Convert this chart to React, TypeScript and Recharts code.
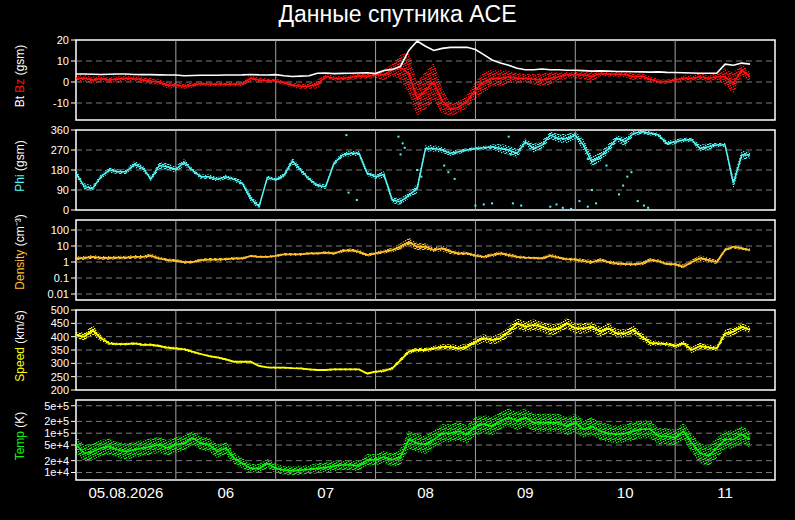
import React from 'react';
import { ComposedChart, Line, Area, Scatter, XAxis, YAxis, ReferenceLine, ReferenceArea } from 'recharts';

const TITLE = 'Данные спутника ACE';
const STEP_HOURS = 2;
const DAY_LINES = [24, 48, 72, 96, 120, 144];
const DAY_LABEL_POS = [12, 36, 60, 84, 108, 132, 156];
const DAY_LABELS = ['05.08.2026', '06', '07', '08', '09', '10', '11'];

// Magnetic field (nT), every 2 hours from 05.08 00:00
const BT = [
  3.8, 3.8, 3.7, 3.6, 3.7, 3.8, 3.8, 3.6, 3.5, 3.5,
  3.4, 3.3, 3.3, 3.0, 3.1, 3.2, 3.2, 3.2, 3.3, 3.3,
  3.4, 3.6, 3.4, 3.3, 3.5, 3.0, 2.6, 2.8, 3.0, 4.2,
  4.3, 4.0, 4.1, 4.2, 4.3, 4.4, 4.0, 5.5, 6.0, 7.5,
  15, 19.5, 17, 15, 16, 16.5, 16.5, 16.5, 15.5, 13,
  10.5, 9, 8, 6.5, 5.8, 5.8, 6.2, 5.8, 5.8, 5.6,
  5.6, 5.4, 5.2, 5.3, 5.2, 5.0, 5.0, 4.9, 4.8, 4.7,
  4.8, 4.6, 4.5, 4.4, 4.3, 4.2, 4.2, 4.2, 8.5, 8.0,
  9.0, 8.5,
];
const BZ = [
  1.8, 1.8, 0.9, 1.6, 0.9, 1.4, 1.8, 1.6, 0.9, 0.4,
  0, -1.6, -1.6, -2, -1.6, -0.8, -1.1, -1.1, -1.1, -1.1,
  -0.8, 1.8, 0.9, 0.6, 0.6, -0.3, -1.6, -2, -2, -1.1,
  2.7, 1.8, 1.8, 2.2, 2.9, 2.7, 3.4, 3.3, 5.7, 7,
  4, -8, -4, 0, -9, -13, -12, -9, -4, 0,
  1.8, 1.8, 2.5, 1.8, 1.8, 1.3, 0.9, 1.8, 2.5, 3.3,
  3.3, 3.3, 2.5, 4.1, 3.7, 3.7, 3.6, 2.5, 2.8, 1.3,
  0.2, 0.2, 0.9, 1.8, 1.8, 2.5, 1.8, 2.5, 2.5, -0.6,
  5.7, 2.5,
];
const BZ_SPREAD = [
  1.5, 1.8, 1.8, 1.5, 1.5, 1.5, 1.5, 1.5, 1.5, 1.5,
  1.2, 1.5, 1.2, 1.2, 1.2, 1.0, 1.0, 1.0, 1.0, 1.0,
  1.2, 1.5, 1.2, 1.0, 1.0, 1.0, 1.2, 1.2, 1.2, 2.0,
  1.2, 1.2, 1.2, 1.2, 1.2, 1.2, 1.5, 2.5, 3, 6,
  10, 8, 9, 9, 6, 3, 3, 3, 4, 5,
  4, 4, 3, 2.5, 2, 2.5, 3, 3, 2, 1.5,
  1.5, 2, 2.5, 1.2, 1.2, 1.2, 1.5, 1.5, 1.2, 1.5,
  1, 1, 1, 1.2, 1.5, 1.5, 1.5, 1.5, 4, 5,
  3, 2,
];

// Phi (deg)
const PHI = [
  165, 105, 97, 150, 180, 172, 172, 205, 190, 140,
  200, 195, 182, 215, 178, 150, 150, 138, 150, 138,
  120, 52, 15, 147, 135, 157, 220, 180, 140, 110,
  105, 210, 247, 255, 255, 165, 150, 160, 45, 37,
  67, 97, 277, 277, 270, 255, 262, 270, 277, 280,
  285, 277, 270, 255, 307, 277, 292, 337, 322, 322,
  337, 292, 217, 240, 277, 322, 307, 345, 352, 345,
  337, 300, 307, 315, 315, 277, 285, 292, 292, 120,
  247, 247,
];
const PHI_SPREAD = [
  15, 15, 12, 12, 12, 10, 10, 15, 12, 12,
  15, 15, 15, 15, 10, 10, 10, 10, 10, 10,
  12, 15, 12, 10, 8, 12, 15, 12, 10, 10,
  10, 10, 12, 12, 12, 12, 10, 15, 15, 15,
  15, 20, 15, 15, 12, 12, 10, 8, 8, 8,
  10, 20, 20, 20, 15, 20, 20, 15, 20, 20,
  15, 25, 25, 20, 20, 15, 20, 12, 10, 10,
  10, 12, 10, 10, 10, 15, 15, 10, 10, 25,
  20, 15,
];
const PHI_EXTRA_T = [65, 65.5, 67.5, 77.5, 78, 78.5, 79, 82, 83, 88.5, 89.5, 91, 96, 98, 100, 104, 104.5, 105, 107, 114, 115.5, 117, 119, 121, 123, 123, 124, 125, 127.5, 130.5, 131.5, 132.5, 133.5, 135, 136.5, 137.5];
const PHI_EXTRA_V = [337, 78, 45, 330, 250, 300, 280, 180, 150, 200, 170, 140, 20, 25, 30, 330, 250, 30, 20, 15, 25, 10, 5, 40, 15, 230, 90, 30, 200, 70, 110, 150, 170, 40, 20, 10];

// Density (cm^-3)
const DENS = [
  1.7, 1.8, 2.1, 1.8, 1.8, 1.9, 1.9, 2.1, 2.1, 2.5,
  1.7, 1.33, 1.2, 0.98, 1.0, 1.3, 1.4, 1.4, 1.5, 1.7,
  1.7, 2.4, 2.1, 2.1, 2.4, 3.0, 3.0, 3.0, 3.5, 3.5,
  3.9, 3.5, 4.9, 5.4, 4.5, 2.7, 3.5, 4.5, 5.6, 9,
  18, 9, 9, 5.6, 7.1, 4.5, 3.5, 3.5, 2.5, 2.1,
  2.7, 3.5, 2.7, 2.1, 1.9, 1.8, 1.7, 2.5, 1.9, 1.5,
  1.4, 1.15, 1.0, 1.3, 1.0, 0.82, 0.75, 0.72, 0.82, 1.3,
  1.15, 0.75, 0.72, 0.51, 1.0, 1.7, 1.3, 1.0, 5.6, 9,
  7.1, 5.6,
];
const DENS_SPREAD = [
  1.3, 1.3, 1.3, 1.3, 1.3, 1.3, 1.3, 1.3, 1.3, 1.3,
  1.25, 1.25, 1.25, 1.25, 1.25, 1.25, 1.25, 1.25, 1.25, 1.25,
  1.2, 1.2, 1.2, 1.2, 1.2, 1.2, 1.2, 1.2, 1.2, 1.2,
  1.25, 1.25, 1.3, 1.3, 1.3, 1.25, 1.25, 1.3, 1.4, 1.6,
  1.8, 1.7, 1.6, 1.4, 1.5, 1.4, 1.3, 1.3, 1.25, 1.25,
  1.3, 1.35, 1.3, 1.25, 1.2, 1.2, 1.2, 1.3, 1.25, 1.25,
  1.3, 1.35, 1.35, 1.3, 1.3, 1.3, 1.3, 1.3, 1.3, 1.3,
  1.25, 1.25, 1.3, 1.35, 1.4, 1.5, 1.4, 1.35, 1.3, 1.3,
  1.25, 1.25,
];

// Speed (km/s)
const SPEED = [
  406, 400, 425, 394, 375, 372, 372, 375, 369, 369,
  365, 359, 356, 352, 344, 335, 327, 322, 315, 306,
  306, 306, 290, 285, 284, 284, 282, 281, 277, 275,
  275, 277, 277, 277, 277, 262, 269, 272, 281, 312,
  344, 350, 350, 356, 362, 362, 356, 362, 381, 394,
  387, 394, 419, 450, 437, 444, 437, 425, 431, 450,
  431, 431, 437, 419, 431, 412, 412, 425, 400, 377,
  375, 372, 365, 375, 350, 365, 360, 356, 412, 419,
  437, 425,
];
const SPEED_SPREAD = [
  12, 15, 18, 12, 6, 5, 5, 5, 5, 5,
  5, 5, 5, 5, 5, 4, 4, 4, 4, 4,
  4, 4, 3, 3, 3, 3, 3, 3, 4, 4,
  4, 4, 4, 4, 4, 4, 5, 6, 6, 8,
  8, 8, 8, 10, 10, 10, 12, 12, 14, 15,
  15, 18, 18, 20, 20, 20, 20, 20, 20, 20,
  20, 20, 18, 18, 18, 16, 16, 16, 14, 12,
  8, 8, 8, 10, 12, 12, 10, 10, 15, 15,
  15, 12,
];

// Temperature (K)
const TEMP = [
  5.1e4, 3.1e4, 3.4e4, 4.2e4, 4.6e4, 3.8e4, 3.4e4, 3.8e4, 4.2e4, 4.6e4,
  5.1e4, 4.2e4, 5.1e4, 5.6e4, 7.6e4, 5.6e4, 5.1e4, 3.4e4, 4.2e4, 2.3e4,
  1.7e4, 1.27e4, 1.27e4, 1.7e4, 1.27e4, 1.15e4, 1.1e4, 1.15e4, 1.2e4, 1.27e4,
  1.35e4, 1.45e4, 1.55e4, 1.55e4, 1.45e4, 2.1e4, 2.1e4, 2.5e4, 2.1e4, 2.5e4,
  6.9e4, 5.6e4, 5.1e4, 6.9e4, 1.0e5, 1.0e5, 1.13e5, 9.3e4, 1.5e5, 1.7e5,
  1.5e5, 2.05e5, 2.5e5, 2.05e5, 2.5e5, 1.85e5, 1.85e5, 1.85e5, 1.85e5, 1.5e5,
  1.85e5, 1.26e5, 1.5e5, 1.13e5, 1.0e5, 9.3e4, 1.0e5, 1.13e5, 1.26e5, 1.26e5,
  8.4e4, 8.4e4, 7.6e4, 1.13e5, 5.6e4, 3.1e4, 2.6e4, 4.2e4, 6.9e4, 6.9e4,
  9.3e4, 6.9e4,
];
const TEMP_SPREAD = [
  1.6, 1.6, 1.6, 1.6, 1.6, 1.6, 1.6, 1.6, 1.6, 1.6,
  1.6, 1.6, 1.6, 1.55, 1.5, 1.5, 1.5, 1.5, 1.45, 1.4,
  1.35, 1.3, 1.3, 1.3, 1.3, 1.3, 1.3, 1.3, 1.3, 1.35,
  1.35, 1.35, 1.35, 1.35, 1.35, 1.4, 1.4, 1.4, 1.5, 1.6,
  1.7, 1.7, 1.7, 1.7, 1.7, 1.7, 1.7, 1.7, 1.7, 1.7,
  1.7, 1.7, 1.7, 1.7, 1.7, 1.7, 1.7, 1.7, 1.7, 1.7,
  1.7, 1.7, 1.7, 1.7, 1.7, 1.7, 1.7, 1.7, 1.7, 1.7,
  1.6, 1.6, 1.6, 1.6, 1.7, 1.8, 1.8, 1.8, 1.7, 1.7,
  1.7, 1.6,
];

// Axis ticks
const BZ_TICKS = [-10, 0, 10, 20];
const BZ_GRID = [-10, 0, 10];
const PHI_TICKS = [0, 90, 180, 270, 360];
const PHI_GRID = [90, 180, 270];
const DENS_TICKS = [0.01, 0.1, 1, 10, 100];
const DENS_TICK_LABELS = ['0.01', '0.1', '1', '10', '100'];
const SPEED_TICKS = [200, 250, 300, 350, 400, 450, 500];
const SPEED_GRID = [250, 300, 350, 400, 450];
const TEMP_TICKS = [1e4, 2e4, 5e4, 1e5, 2e5, 5e5];
const TEMP_TICK_LABELS = ['1e+4', '2e+4', '5e+4', '1e+5', '2e+5', '5e+5'];

const ROWS = BT.map((bt, i) => ({
  t: i * STEP_HOURS,
  bt,
  bz: BZ[i],
  bzBand: [BZ[i] - BZ_SPREAD[i], BZ[i] + BZ_SPREAD[i]],
  phi: PHI[i],
  phiBand: [Math.max(0, PHI[i] - PHI_SPREAD[i]), Math.min(360, PHI[i] + PHI_SPREAD[i])],
  dens: DENS[i],
  densBand: [DENS[i] / DENS_SPREAD[i], DENS[i] * DENS_SPREAD[i]],
  speed: SPEED[i],
  speedBand: [SPEED[i] - SPEED_SPREAD[i], SPEED[i] + SPEED_SPREAD[i]],
  temp: TEMP[i],
  tempBand: [TEMP[i] / TEMP_SPREAD[i], TEMP[i] * TEMP_SPREAD[i]],
}));

const PHI_EXTRA = PHI_EXTRA_T.map((t, i) => ({ t, phiExtra: PHI_EXTRA_V[i] }));

const W = 795;
const PLOT_H = 80;
const PAD = 10;

const RED = '#ff1010';
const CYAN = '#55f5f5';
const ORANGE = '#ffc22e';
const YELLOW = '#ffff00';
const GREEN = '#10f010';

type Part = { text: string; color: string };

const axisTitle = (parts: Part[], shift: number) => (props: any) => {
  const vb = props.viewBox || { x: 0, y: 0, width: 76, height: PLOT_H };
  const cx = 20;
  const cy = vb.y + vb.height / 2 + shift;
  return (
    <text
      x={cx}
      y={cy}
      transform={`rotate(-90 ${cx} ${cy})`}
      textAnchor="middle"
      dominantBaseline="central"
      fontSize={12}
    >
      {parts.map((p, i) => (
        <tspan key={i} fill={p.color}>
          {p.text}
        </tspan>
      ))}
    </text>
  );
};

// speckle patterns that give the bands a scattered-dot look
const SPECKLE: [number, number][] = [
  [0, 0], [3, 1], [1, 2], [4, 3], [2, 4], [0, 3], [3, 4],
];
function SpecklePattern({ id, color }: { id: string; color: string }) {
  return (
    <pattern id={id} patternUnits="userSpaceOnUse" width={5} height={5}>
      {SPECKLE.map(([x, y], i) => (
        <rect key={i} x={x} y={y} width={1.3} height={1.3} fill={color} />
      ))}
    </pattern>
  );
}

function Panel(props: any) {
  const { plotTop, yDomain, yScale, yTicks, yLabels, grid, title, titleShift, showX, children } = props;
  const xH = showX ? 30 : 0;
  const h = PLOT_H + 2 * PAD + xH;
  const fmtY = (v: number) => {
    const idx = yTicks.indexOf(v);
    return yLabels && idx >= 0 ? yLabels[idx] : String(v);
  };
  return (
    <div style={{ position: 'absolute', left: 0, top: plotTop - PAD }}>
      <ComposedChart
        width={W}
        height={h}
        data={ROWS}
        margin={{ top: PAD, right: 20, bottom: PAD, left: 0 }}
      >
        <XAxis
          dataKey="t"
          type="number"
          domain={[0, 168]}
          ticks={DAY_LABEL_POS}
          tickFormatter={(v: number) => DAY_LABELS[DAY_LABEL_POS.indexOf(v)]}
          hide={!showX}
          height={xH}
          axisLine={false}
          tickLine={false}
          tickSize={4}
          tickMargin={3}
          tick={{ fill: '#fff', fontSize: 15 }}
          interval={0}
          allowDataOverflow
        />
        <YAxis
          type="number"
          scale={yScale}
          domain={yDomain}
          ticks={yTicks}
          tickFormatter={fmtY}
          width={76}
          axisLine={false}
          tickLine={{ stroke: '#fff' }}
          tickSize={5}
          tickMargin={2}
          tick={{ fill: '#fff', fontSize: 11 }}
          interval={0}
          allowDataOverflow
          label={{ content: axisTitle(title, titleShift) }}
        />
        {grid.map((v: number) => (
          <ReferenceLine key={'g' + v} y={v} stroke="#7a7a7a" strokeDasharray="6 4" ifOverflow="hidden" />
        ))}
        {DAY_LINES.map((d) => (
          <ReferenceLine key={'d' + d} x={d} stroke="#a0a0a0" strokeWidth={1} />
        ))}
        {children}
        <ReferenceArea
          x1={0}
          x2={168}
          y1={yDomain[0]}
          y2={yDomain[1]}
          fill="none"
          fillOpacity={0}
          stroke="#ffffff"
          strokeWidth={1.5}
          ifOverflow="visible"
        />
      </ComposedChart>
    </div>
  );
}

export default function App() {
  return (
    <div
      style={{
        position: 'absolute',
        left: 0,
        top: 0,
        width: W,
        height: 520,
        background: '#000',
        fontFamily: '"Liberation Sans", Arial, sans-serif',
        overflow: 'hidden',
      }}
    >
      <svg width={0} height={0} style={{ position: 'absolute' }}>
        <defs>
          <SpecklePattern id="spRed" color={RED} />
          <SpecklePattern id="spCyan" color={CYAN} />
          <SpecklePattern id="spOrange" color={ORANGE} />
          <SpecklePattern id="spYellow" color={YELLOW} />
          <SpecklePattern id="spGreen" color={GREEN} />
        </defs>
      </svg>
      <div
        style={{
          position: 'absolute',
          left: 0,
          top: 3,
          width: W,
          textAlign: 'center',
          color: '#fff',
          fontSize: 23,
          lineHeight: '23px',
        }}
      >
        {TITLE}
      </div>

      <Panel
        plotTop={40}
        yDomain={[-18.1, 20]}
        yTicks={BZ_TICKS}
        grid={BZ_GRID}
        title={[
          { text: 'Bt ', color: '#fff' },
          { text: 'Bz', color: RED },
          { text: ' (gsm)', color: '#fff' },
        ]}
        titleShift={-4}
      >
        <Area dataKey="bzBand" type="linear" stroke="none" fill="url(#spRed)" fillOpacity={1} isAnimationActive={false} />
        <Line dataKey="bz" type="linear" stroke={RED} strokeWidth={1.6} dot={false} isAnimationActive={false} />
        <Line dataKey="bt" type="linear" stroke="#ffffff" strokeWidth={1.6} dot={false} isAnimationActive={false} />
      </Panel>

      <Panel
        plotTop={130}
        yDomain={[0, 360]}
        yTicks={PHI_TICKS}
        grid={PHI_GRID}
        title={[
          { text: 'Phi', color: CYAN },
          { text: ' (gsm)', color: '#fff' },
        ]}
        titleShift={-4}
      >
        <Area dataKey="phiBand" type="linear" stroke="none" fill="url(#spCyan)" fillOpacity={1} isAnimationActive={false} />
        <Line dataKey="phi" type="linear" stroke={CYAN} strokeWidth={1.5} dot={false} isAnimationActive={false} />
        <Scatter
          data={PHI_EXTRA}
          dataKey="phiExtra"
          fill={CYAN}
          isAnimationActive={false}
          shape={(p: any) => <rect x={p.cx - 1} y={p.cy - 1} width={2} height={2} fill={CYAN} />}
        />
      </Panel>

      <Panel
        plotTop={220}
        yDomain={[0.00422, 422]}
        yScale="log"
        yTicks={DENS_TICKS}
        yLabels={DENS_TICK_LABELS}
        grid={DENS_TICKS}
        title={[
          { text: 'Density', color: ORANGE },
          { text: ' (cm⁻³)', color: '#fff' },
        ]}
        titleShift={-8}
      >
        <Area dataKey="densBand" type="linear" stroke="none" fill="url(#spOrange)" fillOpacity={1} isAnimationActive={false} />
        <Line dataKey="dens" type="linear" stroke={ORANGE} strokeWidth={1.8} dot={false} isAnimationActive={false} />
      </Panel>

      <Panel
        plotTop={310}
        yDomain={[200, 500]}
        yTicks={SPEED_TICKS}
        grid={SPEED_GRID}
        title={[
          { text: 'Speed', color: YELLOW },
          { text: ' (km/s)', color: '#fff' },
        ]}
        titleShift={-4}
      >
        <Area dataKey="speedBand" type="linear" stroke="none" fill="url(#spYellow)" fillOpacity={1} isAnimationActive={false} />
        <Line dataKey="speed" type="linear" stroke={YELLOW} strokeWidth={1.8} dot={false} isAnimationActive={false} />
      </Panel>

      <Panel
        plotTop={400}
        yDomain={[6440, 700000]}
        yScale="log"
        yTicks={TEMP_TICKS}
        yLabels={TEMP_TICK_LABELS}
        grid={TEMP_TICKS}
        title={[
          { text: 'Temp', color: GREEN },
          { text: ' (K)', color: '#fff' },
        ]}
        titleShift={-4}
        showX
      >
        <Area dataKey="tempBand" type="linear" stroke="none" fill="url(#spGreen)" fillOpacity={1} isAnimationActive={false} />
        <Line dataKey="temp" type="linear" stroke={GREEN} strokeWidth={1.6} dot={false} isAnimationActive={false} />
      </Panel>
    </div>
  );
}
